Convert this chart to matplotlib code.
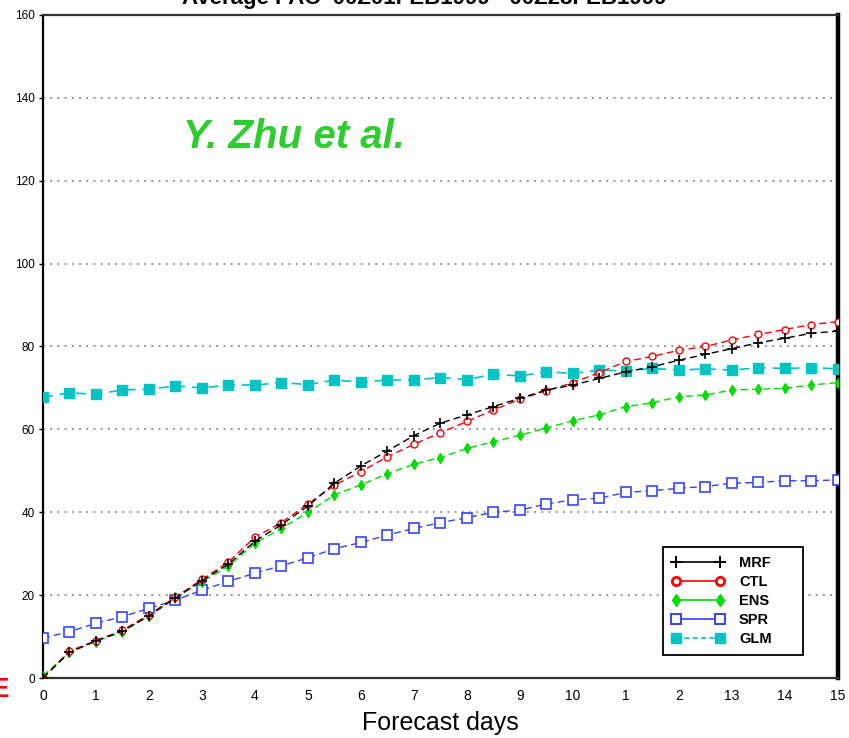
import matplotlib
matplotlib.use("Agg")
import matplotlib.pyplot as plt
from matplotlib.lines import Line2D

#-------------------------------
# DATA (12-hourly forecast days)
#-------------------------------
days = [i * 0.5 for i in range(31)]

mrf = [0.0, 6.2, 9.0, 11.3, 15.0, 19.3, 23.5, 27.5, 33.0, 37.0, 41.5, 47.0, 51.2, 54.8, 58.5, 61.5,
       63.5, 65.5, 67.5, 69.5, 70.7, 72.3, 73.9, 75.1, 76.7, 78.1, 79.5, 80.9, 82.0, 83.2, 83.7]
ctl = [0.0, 6.5, 9.0, 11.5, 15.3, 19.5, 23.8, 28.0, 34.0, 37.5, 42.0, 46.5, 49.8, 53.4, 56.4, 59.2,
       61.9, 64.7, 67.3, 69.3, 71.3, 73.7, 76.4, 77.6, 79.1, 80.0, 81.6, 82.9, 84.1, 85.3, 86.0]
ens = [0.5, 6.2, 8.8, 11.2, 15.0, 19.5, 23.2, 27.0, 32.5, 36.1, 40.0, 44.2, 46.6, 49.3, 51.6, 53.2,
       55.4, 57.0, 58.6, 60.3, 62.1, 63.5, 65.5, 66.4, 67.9, 68.3, 69.5, 69.7, 69.9, 70.7, 71.3]
spr = [9.6, 11.2, 13.2, 14.8, 16.8, 18.8, 21.2, 23.3, 25.3, 27.1, 29.0, 31.2, 32.7, 34.5, 36.1, 37.5,
       38.7, 40.0, 40.5, 42.0, 43.0, 43.4, 44.8, 45.2, 45.8, 46.2, 47.0, 47.2, 47.6, 47.6, 47.8]
glm = [67.8, 68.8, 68.5, 69.5, 69.7, 70.5, 70.0, 70.7, 70.7, 71.3, 70.8, 71.9, 71.4, 71.9, 71.9, 72.5,
       72.0, 73.3, 72.9, 73.9, 73.5, 74.3, 74.1, 74.7, 74.3, 74.6, 74.3, 74.9, 74.7, 74.9, 74.6]

xticks = list(range(16))
xtick_labels = ["0", "1", "2", "3", "4", "5", "6", "7", "8", "9", "10", "1", "2", "13", "14", "15"]
yticks = list(range(0, 161, 20))

sans = ["Liberation Sans", "DejaVu Sans"]

#-------------------------------
# FIGURE
#-------------------------------
fig = plt.figure(figsize=(8.49, 7.38), dpi=100)
ax = fig.add_axes([0.0506, 0.0813, 0.9364, 0.8984])

ax.plot(days, glm, color="#00c4c4", lw=1.2, ls=(0, (6, 4)), marker="s", ms=7.5,
        mfc="#00c4c4", mec="#00c4c4", label="GLM", zorder=3)
ax.plot(days, spr, color="#3344ff", lw=1.0, ls=(0, (5, 3)), marker="s", ms=6.5,
        mfc="white", mec="#3344ff", mew=1.2, label="SPR", zorder=4)
ax.plot(days, ens, color="#00dd00", lw=1.0, ls=(0, (5, 3)), marker="d", ms=5,
        mfc="#00dd00", mec="#00dd00", label="ENS", zorder=5)
ax.plot(days, ctl, color="#ff0000", lw=1.0, ls=(0, (5, 3)), marker="o", ms=5,
        mfc="white", mec="#ff0000", mew=1.0, label="CTL", zorder=6)
ax.plot(days, mrf, color="black", lw=1.0, ls=(0, (5, 3)), marker="+", ms=7,
        mew=1.2, label="MRF", zorder=7)

ax.set_xlim(0, 15)
ax.set_ylim(0, 160)

# grid + spines
ax.set_yticks(yticks)
ax.yaxis.grid(True, color="#888888", ls=(0, (1, 3)), lw=1.3)
ax.set_axisbelow(True)
ax.spines["left"].set_linewidth(1.6)
ax.spines["right"].set_linewidth(3.2)
for side in ["top", "bottom"]:
    ax.spines[side].set_linestyle((0, (4, 1)))
    ax.spines[side].set_linewidth(1.6)
    ax.spines[side].set_color("#333333")

ax.set_xticks(xticks)
ax.set_xticklabels(xtick_labels, family=sans, fontsize=10)
ax.set_yticklabels([str(v) for v in yticks], family=sans, fontsize=8.5)
ax.tick_params(axis="x", length=0, pad=8)
ax.tick_params(axis="y", length=3, width=1, pad=3)

ax.set_xlabel("Forecast days", family=sans, fontsize=18, labelpad=6)

# legend
handles = [
    Line2D([], [], color="black", lw=1.2, marker="+", ms=9, mew=1.4),
    Line2D([], [], color="#ff0000", lw=1.2, marker="o", ms=6, mfc="white", mec="#ff0000", mew=2),
    Line2D([], [], color="#00dd00", lw=1.2, marker="d", ms=6, mfc="#00dd00", mec="#00dd00"),
    Line2D([], [], color="#3344ff", lw=1.2, marker="s", ms=6.5, mfc="white", mec="#3344ff", mew=1.4),
    Line2D([], [], color="#00c4c4", lw=1.2, ls=(0, (3, 2)), marker="s", ms=7, mfc="#00c4c4", mec="#00c4c4"),
]
leg = ax.legend(handles, ["MRF", "CTL", "ENS", "SPR", "GLM"], loc="lower left",
                bbox_to_anchor=(0.78, 0.035, 0.176, 0.17), mode="expand",
                numpoints=2, handlelength=3.6, handletextpad=1.0, labelspacing=0.35,
                borderaxespad=0, borderpad=0.6, fancybox=False, framealpha=1,
                edgecolor="black", prop={"family": sans, "size": 10.5, "weight": "bold"})
leg.get_frame().set_linewidth(1.3)

# annotation text
ax.text(0.176, 0.8, "Y. Zhu et al.", transform=ax.transAxes, color="#2ecc2e",
        fontsize=29, fontweight="bold", fontstyle="italic", family=sans)

# clipped title at the very top, and cut-off red mark at bottom left
fig.text(0.5, 1 - 4 / 738, "Average PAC  00Z01FEB1999 - 00Z28FEB1999", ha="center",
         va="baseline", fontsize=16, fontweight="bold", family=sans)
fig.text(-0.012, 0.055, "E", color="red", fontsize=20, fontweight="bold", family=sans)

fig.savefig("out.png", dpi=100)
